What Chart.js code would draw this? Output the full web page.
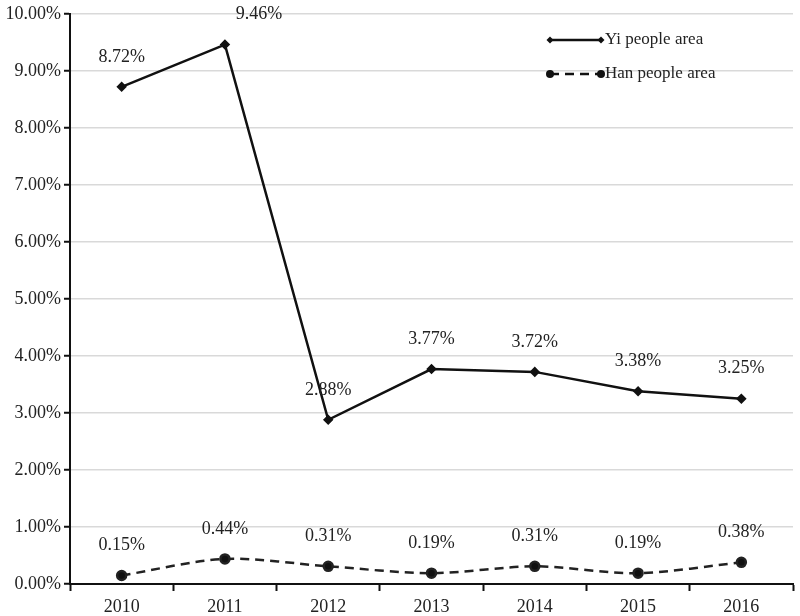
<!DOCTYPE html>
<html>
<head>
<meta charset="utf-8">
<script src="https://cdn.jsdelivr.net/npm/chart.js@4/dist/chart.umd.min.js"></script>
<style>
  html, body { margin: 0; padding: 0; background: #fff; }
  #wrap { width: 800px; height: 616px; }
</style>
</head>
<body>
<div id="wrap"><canvas id="rateCanvas"></canvas></div>
<script>
const years = ['2010', '2011', '2012', '2013', '2014', '2015', '2016'];
const yiArea = [8.72, 9.46, 2.88, 3.77, 3.72, 3.38, 3.25];
const hanArea = [0.15, 0.44, 0.31, 0.19, 0.31, 0.19, 0.38];
const seriesNames = ['Yi people area', 'Han people area'];

const serif = "'Liberation Serif', 'DejaVu Serif', serif";

// percent labels above every point
const pointLabels = {
    id: 'pointLabels',
    afterDatasetsDraw(chart) {
        const ctx = chart.ctx;
        ctx.save();
        ctx.font = '18px ' + serif;
        ctx.fillStyle = '#222';
        ctx.textAlign = 'center';
        ctx.textBaseline = 'middle';
        chart.data.datasets.forEach(function (ds, i) {
            chart.getDatasetMeta(i).data.forEach(function (pt, j) {
                let dx = 0;
                // the top label sits to the right of the peak, as in the source
                if (i === 0 && j === 1) dx = 34;
                ctx.fillText(ds.data[j].toFixed(2) + '%', pt.x + dx, pt.y - 30);
            });
        });
        ctx.restore();
    }
};

// legend drawn inside the plot, top right
const innerLegend = {
    id: 'innerLegend',
    afterDraw(chart) {
        const ctx = chart.ctx;
        ctx.save();
        ctx.font = '17px ' + serif;
        ctx.fillStyle = '#222';
        ctx.textBaseline = 'middle';
        const x0 = 550, x1 = 601;
        const rows = [40, 74];
        chart.data.datasets.forEach(function (ds, i) {
            const y = rows[i];
            ctx.strokeStyle = '#111';
            ctx.lineWidth = ds.borderWidth;
            ctx.setLineDash(ds.borderDash || []);
            ctx.beginPath();
            ctx.moveTo(x0, y);
            ctx.lineTo(x1, y);
            ctx.stroke();
            ctx.setLineDash([]);
            ctx.fillStyle = '#111';
            [x0, x1].forEach(function (x) {
                ctx.beginPath();
                if (i === 0) {
                    ctx.moveTo(x, y - 3.5); ctx.lineTo(x + 3.5, y); ctx.lineTo(x, y + 3.5); ctx.lineTo(x - 3.5, y);
                    ctx.closePath();
                } else {
                    ctx.arc(x, y, 4, 0, Math.PI * 2);
                }
                ctx.fill();
            });
            ctx.fillStyle = '#222';
            ctx.fillText(ds.label, x1 + 4, y);
        });
        ctx.restore();
    }
};

const ctx = document.getElementById('rateCanvas').getContext('2d');
const rateChart = new Chart(ctx, {
    type: 'line',
    data: {
        labels: years,
        datasets: [{
            label: seriesNames[0],
            data: yiArea,
            borderColor: '#111',
            backgroundColor: '#111',
            borderWidth: 2.5,
            pointStyle: 'rectRot',
            pointRadius: 3.5,
            tension: 0
        }, {
            label: seriesNames[1],
            data: hanArea,
            borderColor: '#222',
            backgroundColor: '#111',
            borderWidth: 2.5,
            borderDash: [9, 6],
            pointStyle: 'circle',
            pointRadius: 4.5,
            tension: 0.3
        }]
    },
    plugins: [pointLabels, innerLegend],
    options: {
        responsive: true,
        maintainAspectRatio: false,
        animation: false,
        layout: { padding: { top: 10, right: 5, left: 0, bottom: 0 } },
        plugins: {
            legend: { display: false },
            tooltip: { enabled: false }
        },
        scales: {
            x: {
                offset: true,
                grid: {
                    offset: true,
                    drawOnChartArea: false,
                    tickLength: 7,
                    tickColor: '#111',
                    tickWidth: 2
                },
                border: { color: '#111', width: 2 },
                ticks: { color: '#222', font: { family: serif, size: 18 }, padding: 5 },
                afterFit: function (scale) { scale.height = 32; }
            },
            y: {
                min: 0,
                max: 10,
                grid: {
                    color: '#d9d9d9',
                    lineWidth: 1.5,
                    tickLength: 6,
                    tickColor: '#111',
                    tickWidth: 2
                },
                border: { color: '#111', width: 2 },
                ticks: {
                    stepSize: 1,
                    color: '#222',
                    font: { family: serif, size: 18 },
                    padding: 3,
                    callback: function (v) { return v.toFixed(2) + '%'; }
                },
                afterFit: function (scale) { scale.width = 70; }
            }
        }
    }
});
</script>
</body>
</html>
